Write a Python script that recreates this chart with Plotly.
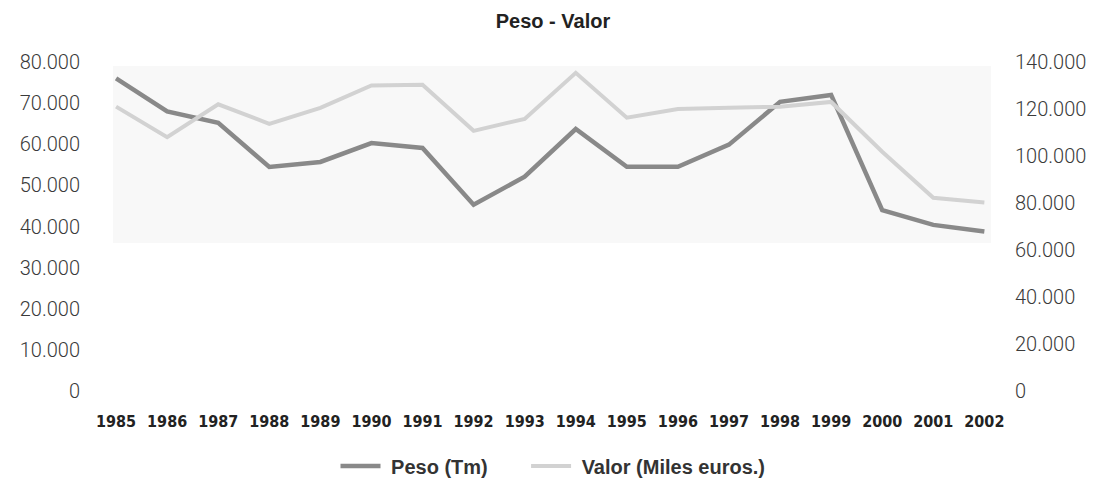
import plotly.graph_objects as go

years = [str(y) for y in range(1985, 2003)]
peso_tm = [76000, 68000, 65200, 54500, 55700, 60300, 59100, 45300, 52100, 63700,
           54500, 54500, 59900, 70300, 72000, 44000, 40400, 38800]
valor_miles_euros = [121000, 108000, 122000, 113700, 120500, 130000, 130300, 110700, 115800, 135400,
                     116300, 120000, 120500, 121000, 123000, 101800, 82200, 80200]
left_ticks = [0, 10000, 20000, 30000, 40000, 50000, 60000, 70000, 80000]
left_labels = ["0", "10.000", "20.000", "30.000", "40.000", "50.000", "60.000", "70.000", "80.000"]
right_ticks = [0, 20000, 40000, 60000, 80000, 100000, 120000, 140000]
right_labels = ["0", "20.000", "40.000", "60.000", "80.000", "100.000", "120.000", "140.000"]
series_names = ["Peso (Tm)", "Valor (Miles euros.)"]

# page has an 8px body margin: figure is 1090x470 so it fills the 1098x478 window
W, H = 1090, 470
NB = "\u00a0"
fig = go.Figure()
fig.add_trace(go.Scatter(x=years, y=peso_tm, name=NB + series_names[0] + NB * 6, mode="lines",
                         line=dict(color="#898989", width=4.5)))
fig.add_trace(go.Scatter(x=years, y=valor_miles_euros, name=NB + series_names[1], mode="lines",
                         line=dict(color="#d2d2d2", width=4), yaxis="y2"))

fig.add_shape(type="rect", xref="paper", yref="paper", x0=0, x1=1, y0=0.45, y1=0.988,
              fillcolor="#f8f8f8", line=dict(width=0), layer="below")

tickfont_y = dict(family="Roboto, Liberation Sans, sans-serif", size=20, color="#3a3a3a", weight=300)

fig.update_layout(
    width=W, height=H,
    margin=dict(l=96, r=95, t=54, b=87),
    paper_bgcolor="white", plot_bgcolor="white",
    title=dict(text="<b>Peso - Valor</b>", x=0.5, xref="container", xanchor="center",
               y=1 - 13 / H, yanchor="middle", yref="container",
               font=dict(family="Liberation Sans, Arial, sans-serif", size=20, color="#222")),
    xaxis=dict(type="category", range=[-0.06, 17.13], showgrid=False, zeroline=False,
               showline=False, ticks="", ticklabelstandoff=19,
               tickfont=dict(family="Noto Sans Condensed, Liberation Sans Narrow, DejaVu Sans Condensed, Liberation Sans, sans-serif",
                             size=16, color="#222", weight="bold")),
    yaxis=dict(range=[0, 80000], tickvals=left_ticks, ticktext=left_labels, showgrid=False,
               zeroline=False, showline=False, ticks="", ticklabelstandoff=32,
               tickfont=tickfont_y),
    yaxis2=dict(range=[0, 140000], tickvals=right_ticks, ticktext=right_labels, overlaying="y",
                side="right", showgrid=False, zeroline=False, showline=False, ticks="",
                ticklabelstandoff=23, tickfont=tickfont_y),
    legend=dict(orientation="h", x=0.5, xref="container", xanchor="center",
                y=1 - 458 / H, yref="container", yanchor="middle",
                font=dict(family="Liberation Sans, Arial, sans-serif", size=20, color="#333",
                          weight="bold"),
                itemwidth=40, tracegroupgap=0),
    showlegend=True,
)

fig.write_html("out.html")
